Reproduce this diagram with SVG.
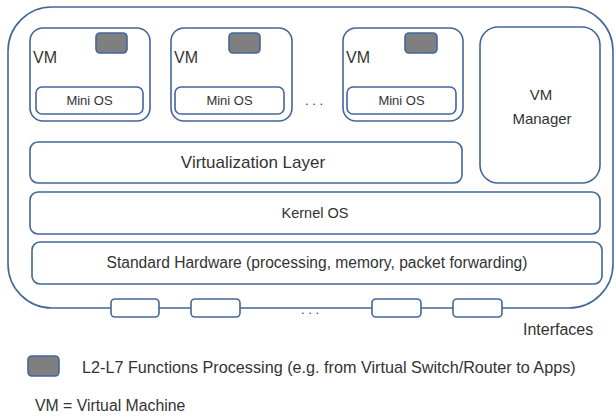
<svg xmlns="http://www.w3.org/2000/svg" width="616" height="417" viewBox="0 0 616 417">
<style>
.box{fill:#fff;stroke:#41679a;stroke-width:1.6}
.fn{fill:#7f7f7f;stroke:#41679a;stroke-width:1.6}
text{font-family:"Liberation Sans",Arial,sans-serif;fill:#333;}
.c{text-anchor:middle}
.vm{font-size:16px}
.os{font-size:13px}
.lay{font-size:15px}
</style>
<rect width="616" height="417" fill="#fff"/>
<g id="host">
<rect class="box" x="8" y="7" width="605" height="301" rx="44" ry="44"/>
</g>
<g id="vm1">
<rect class="box" x="30" y="28" width="120" height="93" rx="13"/>
<rect class="fn" x="96" y="33" width="31" height="20" rx="4"/>
<text class="vm" x="33" y="63">VM</text>
<rect class="box" x="36" y="87" width="107" height="27" rx="6"/>
<text class="os c" x="89.5" y="105">Mini OS</text>
</g>
<g id="vm2">
<rect class="box" x="171" y="28" width="121" height="93" rx="13"/>
<rect class="fn" x="229" y="33" width="31" height="20" rx="4"/>
<text class="vm" x="174" y="63">VM</text>
<rect class="box" x="175" y="87" width="109" height="27" rx="6"/>
<text class="os c" x="229.5" y="105">Mini OS</text>
</g>
<text class="os c" x="314" y="105">. . .</text>
<g id="vm3">
<rect class="box" x="343" y="28" width="120" height="93" rx="13"/>
<rect class="fn" x="405" y="33" width="32" height="20" rx="4"/>
<text class="vm" x="346" y="63">VM</text>
<rect class="box" x="347" y="87" width="109" height="27" rx="6"/>
<text class="os c" x="401.5" y="105">Mini OS</text>
</g>
<g id="vm-manager">
<rect class="box" x="480" y="27" width="120" height="156" rx="18"/>
<text class="lay c" x="541" y="100">VM</text>
<text class="lay c" x="542" y="124">Manager</text>
</g>
<g id="virtualization-layer">
<rect class="box" x="30" y="142" width="432" height="41" rx="8"/>
<text class="lay c" x="253" y="168" style="font-size:17px">Virtualization Layer</text>
</g>
<g id="kernel-os">
<rect class="box" x="30" y="192" width="570" height="42" rx="8"/>
<text class="lay c" x="315" y="218" style="font-size:14.5px">Kernel OS</text>
</g>
<g id="standard-hardware">
<rect class="box" x="32" y="242" width="570" height="42" rx="8"/>
<text class="lay c" x="317" y="268" style="font-size:15.6px">Standard Hardware (processing, memory, packet forwarding)</text>
</g>
<g id="interfaces">
<rect class="box" x="111" y="299" width="48" height="18" rx="4"/>
<rect class="box" x="191" y="299" width="49" height="18" rx="4"/>
<text class="os c" x="310" y="314">. . .</text>
<rect class="box" x="372" y="299" width="49" height="18" rx="4"/>
<rect class="box" x="453" y="299" width="49" height="18" rx="4"/>
<text class="lay" x="523" y="335" style="font-size:16px">Interfaces</text>
</g>
<g id="legend">
<rect class="fn" x="28" y="356" width="31" height="20" rx="4"/>
<text class="lay" x="82" y="373" style="font-size:16.2px">L2-L7 Functions Processing (e.g. from Virtual Switch/Router to Apps)</text>
<text class="lay" x="35" y="411" style="font-size:15.8px">VM = Virtual Machine</text>
</g>
<g id="connectors"></g>
</svg>
